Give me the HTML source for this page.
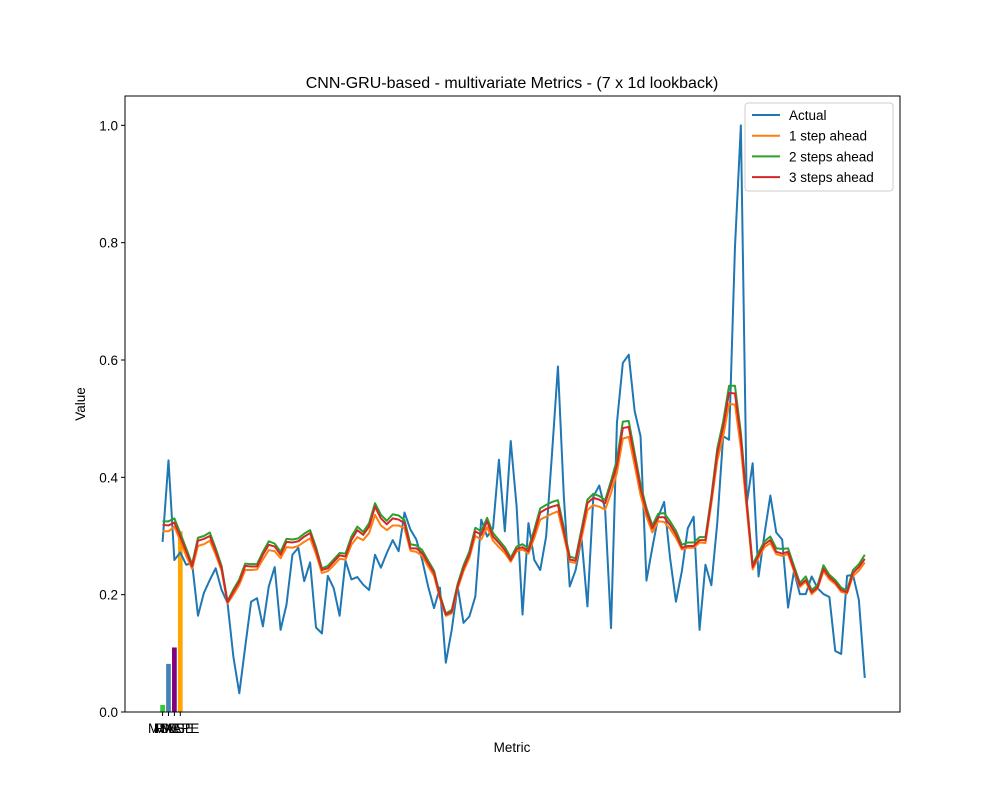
<!DOCTYPE html>
<html><head><meta charset="utf-8"><style>
body{margin:0;background:#fff;}
svg text{font-family:"Liberation Sans","DejaVu Sans",sans-serif;}
</style></head><body>
<svg id="chart" width="1000" height="800" viewBox="0 0 1000 800" xmlns="http://www.w3.org/2000/svg">
<rect x="0" y="0" width="1000" height="800" fill="#fff"/>
<text x="512" y="88" font-size="16" text-anchor="middle">CNN-GRU-based - multivariate Metrics - (7 x 1d lookback)</text>
<g id="bars"></g>
<g id="lines"></g>
<g id="yticks"></g>
<g id="xticks"></g>
<rect x="125" y="96" width="775" height="616" fill="none" stroke="#000" stroke-width="1"/>
<text x="512" y="752" font-size="13.5" text-anchor="middle">Metric</text>
<text x="85" y="404" font-size="13.5" text-anchor="middle" transform="rotate(-90 85 404)">Value</text>
<g id="legend"></g>
</svg>
<script>
const barLabels = ["MSE","MAE","RMSE","MAPE"];
const barValues = [0.012,0.082,0.11,0.308];
const barColors = ["#32cd32","#4682b4","#800080","#ffa500"];
const actual = [.29,.429,.259,.272,.251,.254,.164,.203,.225,.245,.208,.186,.094,.032,.111,.188,.194,.146,.214,
.247,.14,.183,.268,.28,.223,.255,.144,.134,.232,.211,.164,.258,.226,.23,.217,.208,.268,.246,
.271,.293,.274,.34,.311,.294,.259,.214,.177,.212,.084,.14,.214,.152,.163,.197,.328,.299,.313,.43,.308,.462,.35,.166,.322,.259,.242,.299,.441,.589,.367,.214,.242,.296,.18,.367,.386,.345,.143,.493,.595,.609,
.513,.47,.224,.28,.333,.358,.263,.188,.24,.313,.333,.14,.251,.216,.322,.47,.464,.792,1.0,.355,.424,.231,.303,.369,.306,.294,.178,.24,.201,.201,.231,.211,.201,.196,.104,.099,.232,.234,.191,.058];
const step1 = [.308,.308,.316,.292,.266,.244,.283,.286,.292,.268,.241,.185,.2,.217,.242,.242,.243,.26,.276,
.274,.262,.281,.28,.283,.29,.296,.269,.237,.24,.25,.261,.26,.285,.298,.293,.305,.336,
.318,.31,.318,.318,.313,.275,.273,.266,.248,.232,.194,.164,.168,.21,.24,.263,
.3,.294,.315,.292,.281,.271,.256,.274,.277,.27,.297,.328,.333,.338,.342,.3,.256,.254,.296,.344,.353,.35,.345,.373,.408,.466,.469,
.42,.37,.333,.306,.325,.324,.312,.297,.277,.28,.28,.289,.288,.355,.428,.47,.525,.524,.45,.345,.243,.263,.281,.288,.269,.266,.269,.24,.213,.222,.201,.21,.24,.226,.218,.205,.202,.232,.241,.255];
const step2 = [.325,.325,.33,.305,.279,.252,.297,.3,.306,.279,.249,.189,.209,.226,.253,.252,.252,.273,.291,
.287,.273,.295,.294,.296,.304,.31,.281,.245,.249,.26,.271,.27,.299,.316,.307,.322,.356,
.336,.326,.337,.335,.327,.286,.284,.276,.258,.241,.2,.168,.174,.218,.25,.274,
.314,.308,.331,.305,.293,.281,.263,.282,.286,.279,.311,.347,.353,.358,.361,.314,.265,.262,.312,.362,.372,.368,.361,.394,.43,.495,.496,
.442,.388,.348,.318,.338,.339,.325,.309,.285,.289,.289,.298,.298,.368,.449,.495,.556,.556,.476,.361,.251,.272,.291,.299,.279,.278,.279,.249,.22,.231,.208,.216,.25,.234,.225,.212,.207,.242,.252,.268];
const step3 = [.319,.318,.323,.299,.274,.248,.292,.295,.3,.274,.245,.187,.205,.222,.249,.248,.248,.268,.285,
.282,.268,.29,.289,.291,.299,.305,.276,.242,.245,.256,.267,.265,.293,.31,.302,.316,.35,
.33,.32,.33,.328,.322,.279,.279,.271,.254,.237,.197,.166,.171,.214,.245,.268,
.308,.302,.325,.299,.288,.276,.259,.278,.281,.274,.305,.34,.346,.35,.353,.308,.26,.258,.305,.356,.365,.362,.356,.387,.421,.484,.486,
.434,.381,.342,.313,.332,.332,.319,.303,.28,.283,.283,.293,.293,.362,.441,.486,.544,.543,.467,.355,.247,.267,.286,.293,.273,.27,.273,.244,.216,.225,.204,.212,.244,.23,.221,.208,.204,.237,.247,.261];
const yTicks = [0,0.2,0.4,0.6,0.8,1.0];
const yTickLabels = ["0.0","0.2","0.4","0.6","0.8","1.0"];
const seriesNames = ["Actual","1 step ahead","2 steps ahead","3 steps ahead"];

const NS="http://www.w3.org/2000/svg";
const L=125,R=900,T=96,B=712;
const n=Math.max(actual.length,step1.length,step2.length,step3.length);
const xmin=-0.4, xmax=n-1;
const pad=0.05*(xmax-xmin);
const x0=xmin-pad, x1=xmax+pad;
const X=v=>L+(v-x0)/(x1-x0)*(R-L);
const Y=v=>B-(v/1.05)*(B-T);
function mk(tag,attrs,parent){const e=document.createElementNS(NS,tag);for(const k in attrs)e.setAttribute(k,attrs[k]);parent.appendChild(e);return e;}

const gb=document.getElementById('bars');
barValues.forEach((v,i)=>{
  const r=mk('rect',{x:X(i-0.4),y:Y(v),width:X(0.8)-X(0),height:Y(0)-Y(v),fill:barColors[i]},gb);
  
  
});
const gx=document.getElementById('xticks');
barLabels.forEach((lab,i)=>{
  const t=mk('line',{x1:X(i),x2:X(i),y1:B,y2:B+4,stroke:'#000','stroke-width':1},gx);
  
  
  const tx=mk('text',{x:X(i),y:B+21,'font-size':13.5,'text-anchor':'middle'},gx);
  tx.textContent=lab;
  
  
});
const gy=document.getElementById('yticks');
yTicks.forEach((v,i)=>{
  const t=mk('line',{x1:L-4,x2:L,y1:Y(v),y2:Y(v),stroke:'#000','stroke-width':1},gy);
  
  
  const tx=mk('text',{x:L-7,y:Y(v)+5,'font-size':13.5,'text-anchor':'end'},gy);
  tx.textContent=yTickLabels[i];
  
  
});
const gl=document.getElementById('lines');
const series=[actual,step1,step2,step3];
const colors=["#1f77b4","#ff7f0e","#2ca02c","#d62728"];
const lineNames=["line-actual","line-1-step","line-2-steps","line-3-steps"];
series.forEach((s,k)=>{
  const d=s.map((v,i)=>(i?'L':'M')+X(i).toFixed(2)+' '+Y(v).toFixed(2)).join(' ');
  const p=mk('path',{d:d,fill:'none',stroke:colors[k],'stroke-width':2,'stroke-linejoin':'round'},gl);
  
  
});
const lg=document.getElementById('legend');
mk('rect',{x:745,y:103,width:148,height:88,rx:3,fill:'#fff','fill-opacity':0.8,stroke:'#ccc','stroke-width':1},lg);
seriesNames.forEach((nm,k)=>{
  const yy=115+k*20.7;
  const ln=mk('line',{x1:752,x2:780,y1:yy,y2:yy,stroke:colors[k],'stroke-width':2},lg);
  
  
  const tx=mk('text',{x:789,y:yy+5,'font-size':13.5},lg);
  tx.textContent=nm;
  
  
});
</script>
</body></html>
